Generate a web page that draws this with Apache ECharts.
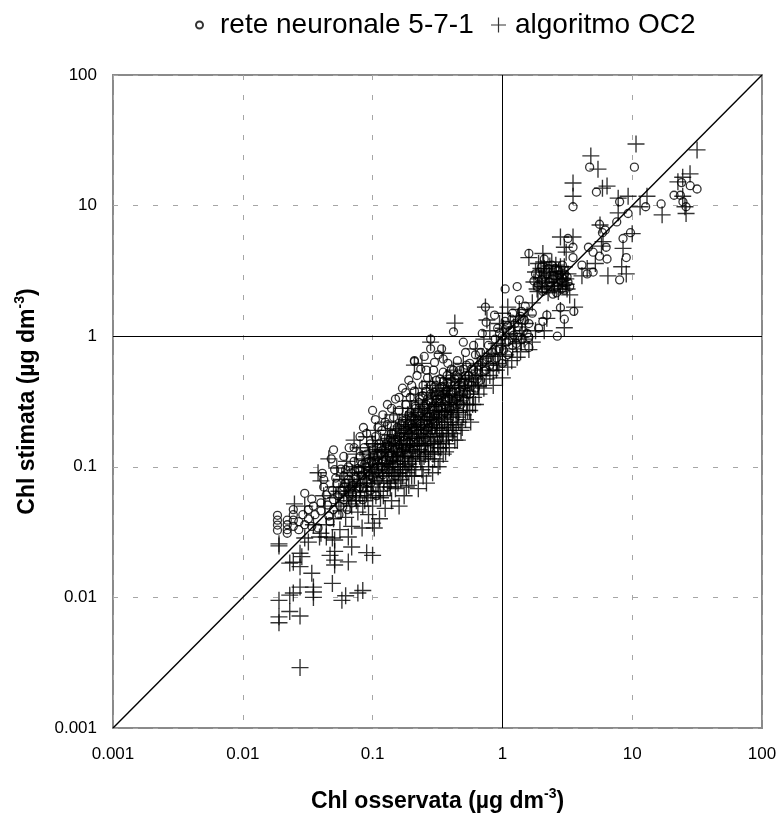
<!DOCTYPE html>
<html>
<head>
<meta charset="utf-8">
<title>Chl osservata vs stimata</title>
<script src="https://cdn.jsdelivr.net/npm/echarts@6/dist/echarts.min.js"></script>
<style>
html,body{margin:0;padding:0;background:#fff;}
#chart{width:779px;height:814px;}
</style>
</head>
<body>
<div id="chart"></div>
<script>
var NAME_NET='rete neuronale 5-7-1';
var NAME_OC2='algoritmo OC2';
var tick_labels=['0.001','0.01','0.1','1','10','100'];
var line_ends=[[0.001,0.001],[100,100]];

// [osservata, stimata]
var net_low=[[0.0185,0.0425],[0.0185,0.039],[0.0185,0.0358],[0.0185,0.0327],[0.022,0.039],[0.022,0.036],[0.022,0.033],[0.022,0.031],
[0.0245,0.047],[0.0245,0.043],[0.0245,0.039],[0.0245,0.035],[0.027,0.038],[0.027,0.033],[0.029,0.043],[0.03,0.0627],[0.03,0.036],[0.032,0.047],[0.032,0.04],[0.034,0.0566],
[0.034,0.035],[0.035,0.05],[0.036,0.043],[0.038,0.034],[0.04,0.053],[0.04,0.046],[0.041,0.089],[0.042,0.08],[0.042,0.07],[0.044,0.061],[0.045,0.051],[0.046,0.042],
[0.047,0.038],[0.049,0.066],[0.05,0.056],[0.05,0.047],[0.052,0.082],[0.053,0.074],[0.054,0.06],[0.055,0.043],[0.056,0.05],[0.057,0.096]];
var net_core=[[0.058,0.066],[0.06,0.085],[0.06,0.056],[0.062,0.075],[0.064,0.047],[0.065,0.1],[0.066,0.062],[0.068,0.09],[0.07,0.072],[0.07,0.053],[0.072,0.11],[0.074,0.083],
[0.075,0.062],[0.077,0.097],[0.08,0.12],[0.08,0.07],[0.082,0.086],[0.084,0.056],[0.086,0.14],[0.087,0.105],[0.09,0.077],[0.09,0.125],[0.092,0.092],[0.095,0.066],
[0.096,0.15],[0.098,0.11],[0.1,0.083],[0.1,0.135],[0.103,0.098],[0.105,0.17],[0.107,0.06],[0.11,0.12],[0.11,0.078],[0.113,0.15],[0.116,0.1],[0.118,0.19],
[0.12,0.087],[0.12,0.135],[0.125,0.165],[0.127,0.113],[0.13,0.07],[0.13,0.21],[0.133,0.095],[0.136,0.145],[0.14,0.125],[0.14,0.18],[0.145,0.24],[0.146,0.105],
[0.15,0.155],[0.15,0.085],[0.155,0.2],[0.157,0.13],[0.16,0.27],[0.163,0.112],[0.165,0.17],[0.17,0.225],[0.17,0.14],[0.175,0.095],[0.18,0.3],[0.18,0.19],
[0.185,0.125],[0.19,0.155],[0.19,0.25],[0.195,0.34],[0.2,0.21],[0.2,0.11],[0.205,0.17],[0.21,0.38],[0.21,0.135],[0.215,0.28],[0.22,0.23],[0.225,0.155],
[0.23,0.19],[0.23,0.33],[0.24,0.12],[0.24,0.26],[0.245,0.42],[0.25,0.21],[0.255,0.165],[0.26,0.3],[0.265,0.48],[0.27,0.24],[0.275,0.14],[0.28,0.36],
[0.285,0.19],[0.29,0.27],[0.295,0.55],[0.3,0.22],[0.3,0.41],[0.31,0.31],[0.32,0.16],[0.32,0.25],[0.33,0.47],[0.33,0.36],[0.34,0.28],[0.35,0.21],
[0.35,0.53],[0.36,0.41],[0.37,0.32],[0.38,0.25],[0.38,0.62],[0.39,0.47],[0.4,0.36],[0.41,0.29],[0.42,0.55],[0.43,0.42],[0.44,0.33],[0.45,0.65],
[0.46,0.48],[0.47,0.38],[0.48,0.3],[0.5,0.56],[0.5,0.44],[0.52,0.75],[0.53,0.36],[0.55,0.5],[0.56,0.62],[0.58,0.42],[0.6,0.55],[0.62,0.72]];
var net_dense=[[0.05,0.135],[0.048,0.115],[0.051,0.095],[0.06,0.12],[0.066,0.14],[0.072,0.14],[0.08,0.17],[0.085,0.2],[0.09,0.18],[0.1,0.27],[0.105,0.23],[0.11,0.2],[0.12,0.25],
[0.125,0.22],[0.13,0.3],[0.14,0.28],[0.15,0.33],[0.16,0.34],[0.17,0.4],[0.18,0.37],[0.19,0.46],[0.2,0.42],[0.21,0.64],[0.22,0.5],[0.235,0.56],[0.25,0.7],[0.26,0.55],[0.28,0.8],[0.3,0.63],
[0.32,0.72],[0.06,0.07],[0.065,0.08],[0.07,0.062],[0.075,0.075],[0.08,0.095],[0.085,0.068],[0.09,0.1],[0.095,0.085],[0.1,0.105],[0.105,0.09],[0.11,0.14],[0.115,0.125],[0.12,0.11],
[0.125,0.095],[0.13,0.145],[0.135,0.12],[0.14,0.155],[0.145,0.135],[0.15,0.12],[0.155,0.17],[0.16,0.145],[0.165,0.13],[0.17,0.19],[0.175,0.16],[0.18,0.14],[0.185,0.21],[0.19,0.18],
[0.195,0.15],[0.2,0.24],[0.21,0.19],[0.215,0.165],[0.22,0.26],[0.23,0.22],[0.24,0.18],[0.25,0.29],[0.26,0.24],[0.27,0.2],[0.28,0.31],[0.29,0.23],[0.3,0.35],[0.31,0.27],[0.32,0.21],
[0.33,0.31],[0.34,0.41],[0.35,0.25],[0.36,0.36],[0.37,0.28],[0.38,0.44],[0.39,0.33],[0.4,0.27],[0.42,0.37],[0.44,0.5],[0.46,0.35],[0.48,0.44],[0.5,0.37],[0.52,0.5],[0.54,0.43],
[0.56,0.36],[0.58,0.56],[0.6,0.47],[0.62,0.4],[0.65,0.55],[0.68,0.46],[0.7,0.62],[0.75,0.55],[0.8,0.68],[0.85,0.58],[0.9,0.78]];
var net_fill=[[0.062,0.095],[0.067,0.068],[0.073,0.092],[0.078,0.068],[0.083,0.105],[0.088,0.09],[0.093,0.115],[0.097,0.075],[0.102,0.122],[0.107,0.105],[0.112,0.09],[0.117,0.14],[0.122,0.12],
[0.127,0.15],[0.132,0.105],[0.137,0.165],[0.142,0.14],[0.147,0.115],[0.152,0.185],[0.157,0.155],[0.162,0.12],[0.167,0.21],[0.172,0.17],[0.177,0.135],[0.182,0.23],[0.187,0.19],[0.192,0.14],
[0.197,0.26],[0.203,0.2],[0.208,0.155],[0.213,0.29],[0.218,0.215],[0.223,0.18],[0.228,0.31],[0.233,0.245],[0.238,0.205],[0.243,0.35],[0.248,0.27],[0.253,0.19],[0.258,0.38],[0.263,0.26],
[0.268,0.215],[0.273,0.32],[0.278,0.24],[0.283,0.42],[0.288,0.29],[0.293,0.21],[0.298,0.37],[0.305,0.25],[0.31,0.46],[0.315,0.33],[0.32,0.28],[0.33,0.4],[0.335,0.25],[0.34,0.35],[0.35,0.45],
[0.355,0.3],[0.36,0.26],[0.37,0.38],[0.375,0.5],[0.385,0.34],[0.39,0.28],[0.4,0.43],[0.405,0.56],[0.415,0.32],[0.43,0.47],[0.44,0.38],[0.45,0.3],[0.47,0.55],[0.49,0.41],[0.51,0.33],[0.53,0.6]];
var net_high=[[0.28,0.95],[0.34,0.8],[0.35,0.67],[0.21,0.65],[0.42,1.08],[0.5,0.9],[0.6,0.85],[0.64,0.47],[0.66,0.6],[0.68,0.75],[0.7,1.05],[0.72,0.54],[0.74,1.67],[0.75,1.28],
[0.76,0.66],[0.78,0.85],[0.8,0.6],[0.84,0.75],[0.87,1.45],[0.88,0.95],[0.9,0.68],[0.92,1.15],[0.95,0.8],[1,1],[1,0.62],[1.05,2.3],[1.05,1.3],[1.08,0.9],[1.1,0.72],[1.15,1.1],
[1.2,1.5],[1.2,0.85],[1.25,1.25],[1.3,2.4],[1.3,0.98],[1.35,1.9],[1.35,1.35],[1.4,1.55],[1.45,1.1],[1.5,1.7],[1.6,4.3],[1.6,0.98],[1.6,0.82],[1.6,1.25],[1.7,1.5],[1.75,2.65],
[1.8,3],[1.85,2.4],[1.9,1.15],[2,3.4],[2,2.7],[2.05,1.3],[2.1,3.9],[2.15,2.3],[2.2,1.45],[2.2,3],[2.3,2.6],[2.4,3.5],[2.45,2.1],[2.5,2.9],[2.6,2.4],[2.65,1],[2.7,3.2],
[2.8,1.65],[2.8,2.7],[2.9,3.5],[3,1.35],[3,2.25],[3,3],[3.2,5.6],[3.2,2.6],[3.3,2.4],[3.5,9.8],[3.5,4.8],[3.5,4],[3.55,1.55],[4.1,3.5],[4.5,3],[4.6,4.8],[4.7,19.7],
[5,4.4],[5,3.1],[5.3,12.7],[5.6,7.2],[5.6,4.1],[5.9,6.2],[6.2,6.5],[6.3,4.8],[6.4,3.9],[7.6,7.5],[8,10.7],[8,2.7],[8.5,5.6],[9,4],[9.3,8.7],[9.7,6.2],[10.4,19.7],
[12.7,9.8],[16.7,10.3],[21,12],[23.5,12],[24,15],[24.6,10.7],[26,9.8],[28,14.2],[31.6,13.4]];
var net_cluster=[[0.95,1.05],[1.02,0.78],[1.1,1.2],[1.12,0.92],[1.18,1.35],[1.22,1.02],[1.28,0.88],[1.32,1.18],[1.38,1.42],[1.42,0.95],[1.48,1.32],[1.55,1.05],[1.9,2.5],[1.95,3.1],[2.05,2.2],[2.12,2.85],[2.25,3.3],[2.35,2.4],[2.42,2.75],[2.55,3.3],[2.62,2.15],[2.75,2.95],[2.85,2.3],[2.95,2.75],[3.05,2.45],[3.15,2.85]];

var oc2_low=[[0.0276,0.0029],[0.019,0.0095],[0.019,0.0071],[0.019,0.0064],[0.023,0.0078],[0.0276,0.0072],[0.019,0.0257],[0.019,0.0248],[0.023,0.0104],[0.0245,0.0108],[0.0276,0.012],
[0.034,0.0153],[0.035,0.012],[0.035,0.011],[0.035,0.01],[0.049,0.0128],[0.058,0.0095],[0.062,0.0103],[0.077,0.0108],[0.084,0.0113],[0.023,0.0183],[0.0245,0.0186],[0.0276,0.0218],
[0.0285,0.0205],[0.0276,0.0172],[0.03,0.0285],[0.032,0.0265],[0.039,0.029],[0.044,0.029],[0.049,0.0285],[0.051,0.0275],[0.047,0.021],[0.051,0.0225],[0.051,0.0193],[0.051,0.0177],
[0.065,0.0187],[0.069,0.0243],[0.065,0.029],[0.1,0.037],[0.103,0.034],[0.1,0.021],[0.09,0.022],[0.035,0.036],[0.04,0.031],[0.044,0.036],[0.025,0.052],[0.03,0.05],[0.038,0.09],
[0.04,0.078],[0.042,0.06],[0.043,0.05]];
var oc2_core=[[0.046,0.115],[0.05,0.04],[0.05,0.07],[0.053,0.098],[0.055,0.05],[0.056,0.033],[0.058,0.08],[0.06,0.062],[0.062,0.041],[0.063,0.11],[0.065,0.07],[0.067,0.052],
[0.069,0.035],[0.07,0.09],[0.072,0.16],[0.074,0.06],[0.075,0.125],[0.077,0.045],[0.08,0.075],[0.08,0.14],[0.083,0.034],[0.085,0.1],[0.087,0.055],[0.09,0.17],[0.09,0.082],[0.093,0.043],
[0.095,0.125],[0.097,0.065],[0.1,0.095],[0.1,0.05],[0.105,0.15],[0.105,0.19],[0.11,0.075],[0.11,0.115],[0.113,0.04],[0.115,0.058],[0.12,0.135],[0.12,0.09],[0.125,0.22],[0.125,0.048],
[0.13,0.107],[0.13,0.07],[0.135,0.165],[0.14,0.055],[0.14,0.085],[0.145,0.25],[0.145,0.125],[0.15,0.195],[0.15,0.068],[0.155,0.1],[0.16,0.15],[0.16,0.05],[0.165,0.08],[0.17,0.28],
[0.17,0.12],[0.175,0.06],[0.18,0.23],[0.18,0.095],[0.185,0.17],[0.19,0.072],[0.195,0.32],[0.195,0.135],[0.2,0.11],[0.2,0.2],[0.21,0.085],[0.215,0.36],[0.215,0.26],[0.22,0.15],
[0.225,0.068],[0.23,0.12],[0.235,0.19],[0.24,0.4],[0.24,0.095],[0.25,0.3],[0.25,0.145],[0.26,0.075],[0.265,0.23],[0.27,0.115],[0.275,0.45],[0.28,0.17],[0.29,0.35],[0.29,0.09],
[0.3,0.13],[0.3,0.26],[0.31,0.2],[0.32,0.1],[0.33,0.4],[0.33,0.155],[0.34,0.3],[0.35,0.125],[0.36,0.23],[0.37,0.48],[0.37,0.175],[0.38,0.36],[0.39,0.14],[0.4,0.27],[0.41,0.2],
[0.42,0.55],[0.43,0.16],[0.44,0.33],[0.45,0.24],[0.46,0.42],[0.48,0.19],[0.5,0.3],[0.5,0.62],[0.52,0.23],[0.54,0.38],[0.56,0.27],[0.58,0.48],[0.6,0.34]];
var oc2_dense=[[0.055,0.065],[0.06,0.085],[0.063,0.055],[0.067,0.075],[0.07,0.065],[0.073,0.1],[0.076,0.08],[0.08,0.06],[0.083,0.115],[0.086,0.085],[0.09,0.065],[0.093,0.13],[0.096,0.105],
[0.1,0.075],[0.1,0.15],[0.104,0.118],[0.108,0.09],[0.112,0.065],[0.115,0.16],[0.118,0.105],[0.122,0.078],[0.126,0.13],[0.13,0.19],[0.133,0.095],[0.137,0.07],[0.14,0.15],[0.143,0.11],
[0.147,0.085],[0.15,0.17],[0.153,0.13],[0.157,0.075],[0.16,0.22],[0.163,0.1],[0.167,0.15],[0.17,0.085],[0.174,0.18],[0.178,0.12],[0.182,0.07],[0.186,0.25],[0.19,0.105],[0.195,0.16],
[0.2,0.085],[0.2,0.28],[0.205,0.13],[0.21,0.21],[0.215,0.1],[0.22,0.18],[0.225,0.32],[0.23,0.15],[0.235,0.11],[0.24,0.24],[0.245,0.085],[0.25,0.19],[0.255,0.125],[0.26,0.37],[0.265,0.16],
[0.27,0.1],[0.275,0.27],[0.28,0.13],[0.285,0.21],[0.29,0.42],[0.295,0.155],[0.3,0.115],[0.31,0.3],[0.315,0.18],[0.32,0.14],[0.325,0.24],[0.33,0.11],[0.34,0.2],[0.345,0.35],[0.35,0.16],
[0.36,0.27],[0.365,0.13],[0.37,0.4],[0.38,0.21],[0.385,0.17],[0.39,0.3],[0.4,0.47],[0.41,0.24],[0.42,0.19],[0.43,0.35],[0.44,0.27],[0.45,0.16],[0.46,0.22],[0.47,0.32],[0.48,0.5],[0.5,0.25],
[0.51,0.4],[0.53,0.3],[0.55,0.47],[0.57,0.22],[0.6,0.42],[0.62,0.3],[0.64,0.6],[0.66,0.36],[0.7,0.5],[0.72,0.4],[0.76,0.7],[0.8,0.5],[0.85,0.42],[0.9,0.55]];
var oc2_fill=[[0.052,0.058],[0.057,0.046],[0.061,0.07],[0.065,0.06],[0.069,0.05],[0.072,0.072],[0.075,0.055],[0.078,0.09],[0.081,0.07],[0.084,0.05],[0.087,0.1],[0.089,0.075],[0.092,0.058],
[0.094,0.09],[0.098,0.07],[0.101,0.115],[0.103,0.085],[0.106,0.06],[0.109,0.135],[0.111,0.1],[0.114,0.078],[0.117,0.12],[0.119,0.09],[0.121,0.06],[0.124,0.15],[0.127,0.105],[0.129,0.085],
[0.132,0.13],[0.134,0.075],[0.136,0.1],[0.138,0.175],[0.141,0.12],[0.144,0.09],[0.146,0.145],[0.149,0.105],[0.151,0.078],[0.154,0.19],[0.156,0.12],[0.159,0.09],[0.162,0.16],[0.164,0.11],
[0.166,0.205],[0.169,0.13],[0.171,0.095],[0.173,0.15],[0.176,0.11],[0.179,0.21],[0.181,0.14],[0.184,0.09],[0.187,0.12],[0.189,0.19],[0.192,0.145],[0.194,0.1],[0.198,0.23],[0.201,0.165],
[0.204,0.115],[0.207,0.24],[0.211,0.145],[0.214,0.12],[0.217,0.2],[0.221,0.13],[0.224,0.25],[0.227,0.165],[0.231,0.135],[0.234,0.21],[0.238,0.145],[0.242,0.28],[0.246,0.17],[0.249,0.12],
[0.252,0.23],[0.256,0.15],[0.26,0.2],[0.264,0.3],[0.268,0.13],[0.272,0.18],[0.276,0.23],[0.28,0.15],[0.284,0.33],[0.288,0.19],[0.292,0.125],[0.296,0.24],[0.302,0.17],[0.307,0.36],[0.312,0.22],
[0.317,0.15],[0.322,0.27],[0.328,0.19],[0.335,0.14],[0.34,0.25],[0.347,0.18],[0.353,0.38],[0.358,0.22],[0.364,0.31],[0.37,0.15],[0.376,0.25],[0.383,0.19],[0.39,0.36],[0.398,0.22],[0.405,0.3],
[0.412,0.18],[0.42,0.26],[0.43,0.42],[0.44,0.21],[0.45,0.3],[0.46,0.26],[0.47,0.4],[0.49,0.2],[0.5,0.34],[0.52,0.45],[0.54,0.27],[0.56,0.36],[0.59,0.3],[0.62,0.5],[0.65,0.41],[0.68,0.62]];
var oc2_high=[[0.43,1.26],[0.74,1.67],[0.28,0.9],[0.35,0.74],[0.21,0.6],[0.24,0.62],[1,1.5],[1.1,1.67],[0.76,1.33],[0.62,0.8],[0.65,0.42],[0.68,0.55],[0.7,0.68],[0.72,0.95],[0.75,0.47],
[0.78,0.6],[0.8,1.1],[0.82,0.74],[0.85,0.55],[0.9,0.88],[0.92,0.62],[0.95,1.25],[1,0.7],[1,0.48],[1.05,0.95],[1.1,0.58],[1.15,1.3],[1.2,0.8],[1.25,1.05],[1.3,0.69],[1.35,1.6],
[1.4,0.9],[1.5,1.25],[1.6,4],[1.6,0.79],[1.7,0.9],[1.7,1.8],[1.8,1.1],[1.75,2.6],[1.8,3.1],[1.85,2.3],[1.9,3.6],[2,2.8],[2.05,4.3],[2.1,1.1],[2.1,3.3],[2.2,1.37],[2.2,2.4],[2.3,2.9],
[2.4,3.7],[2.5,2.6],[2.6,3.1],[2.7,2.2],[2.8,5.75],[2.8,1.57],[2.8,3.4],[2.9,2.7],[3,4.8],[3,1.16],[3.1,4.4],[3.1,2.5],[3.2,3],[3.3,2.07],[3.5,14.9],[3.5,11.8],[3.5,5.75],[3.6,1.67],
[4.1,2.9],[4.5,3.3],[4.8,24],[5.2,3.6],[5.45,19],[5.65,7.1],[5.8,4.9],[5.9,13.6],[5.96,5.3],[6.4,14.1],[6.5,2.9],[7.8,11.4],[7.8,8.8],[8.3,3.4],[8.5,4.7],[9,3],[9.3,11.8],[10,6.1],
[10.7,29.6],[11.5,9.8],[13,11.8],[17,8.5],[22.5,15.2],[24.5,16.5],[24.5,11.8],[25.5,9.8],[26,8.7],[27.9,17.5],[31.6,26.7]];
var oc2_cluster=[[0.88,0.72],[0.94,0.6],[0.98,0.85],[1.02,1.15],[1.06,0.72],[1.12,1.02],[1.18,0.65],[1.22,1.18],[1.28,0.88],[1.33,1.42],[1.38,0.76],[1.42,1.1],[1.47,0.95],[1.55,1.45],[1.88,2.2],[1.92,2.75],[1.98,3.3],[2.03,2.4],[2.08,3.7],[2.13,2.6],[2.18,3.1],[2.25,2.15],[2.32,3.45],[2.38,2.55],[2.45,3],[2.52,2.3],[2.58,3.5],[2.65,2.75],[2.72,3.15],[2.78,2.4],[2.85,3],[2.92,2.45],[3,3.4],[3.08,2.75],[3.15,2.3]];

var plus_icon='path://M9.2 0h1.6v20h-1.6z M0 9.2h20v1.6H0z';
var myChart=echarts.init(document.getElementById('chart'));

function logAxis(name,nameGap,labelMargin){
    return {
        type:'log',
        logBase:10,
        min:0.001,
        max:100,
        name:name,
        nameLocation:'middle',
        nameGap:nameGap,
        nameTextStyle:{
            rich:{
                t:{fontFamily:'Liberation Sans',fontSize:23,fontWeight:'bold',color:'#000',verticalAlign:'bottom',lineHeight:26},
                s:{fontFamily:'Liberation Sans',fontSize:14,fontWeight:'bold',color:'#000',verticalAlign:'top',lineHeight:14,padding:[0,0,16,0]}
            }
        },
        axisLine:{show:false},
        axisTick:{show:false},
        minorTick:{show:false},
        minorSplitLine:{show:false},
        axisLabel:{
            fontFamily:'Liberation Sans',
            fontSize:17,
            color:'#000',
            margin:labelMargin,
            formatter:function(v){
                return tick_labels[Math.round(Math.log(v)/Math.LN10)+3];
            }
        },
        splitLine:{show:true,lineStyle:{color:'#a6a6a6',width:1,type:[5,15]}}
    };
}

var option={
    animation:false,
    backgroundColor:'#fff',
    legend:[
        {
            data:[NAME_NET],
            left:190,
            top:6,
            itemWidth:7,
            itemHeight:7,
            textStyle:{fontFamily:'Liberation Sans',fontSize:28,color:'#000',padding:[0,0,0,12]}
        },
        {
            data:[NAME_OC2],
            left:486,
            top:6,
            itemWidth:15,
            itemHeight:15,
            textStyle:{fontFamily:'Liberation Sans',fontSize:28,color:'#000',padding:[0,0,0,4]}
        }
    ],
    grid:{left:113,right:17,top:75,bottom:86,show:true,outerBoundsMode:'none',borderColor:'#8a8a8a',borderWidth:2,backgroundColor:'#fff'},
    xAxis:logAxis('{t|Chl osservata (µg dm}{s|-3}{t|)}',59,18),
    yAxis:logAxis('{t|Chl stimata (µg dm}{s|-3}{t|)}',71,16),
    series:[
        {
            name:'1:1',
            type:'line',
            data:line_ends,
            symbol:'none',
            lineStyle:{color:'#000',width:1.4},
            z:1,
            silent:true,
            markLine:{
                silent:true,
                symbol:'none',
                label:{show:false},
                lineStyle:{color:'#000',width:1,type:'solid'},
                data:[{xAxis:1},{yAxis:1}]
            }
        },
        {
            name:NAME_NET,
            type:'scatter',
            data:net_low.concat(net_core,net_dense,net_fill,net_high,net_cluster),
            symbol:'circle',
            symbolSize:8,
            itemStyle:{color:'rgba(255,255,255,0)',borderColor:'#000',borderWidth:1.3},
            z:3
        },
        {
            name:NAME_OC2,
            type:'scatter',
            data:oc2_low.concat(oc2_core,oc2_dense,oc2_fill,oc2_high,oc2_cluster),
            symbol:plus_icon,
            symbolSize:17,
            itemStyle:{color:'#000'},
            z:2
        }
    ]
};
myChart.setOption(option);
</script>
</body>
</html>
